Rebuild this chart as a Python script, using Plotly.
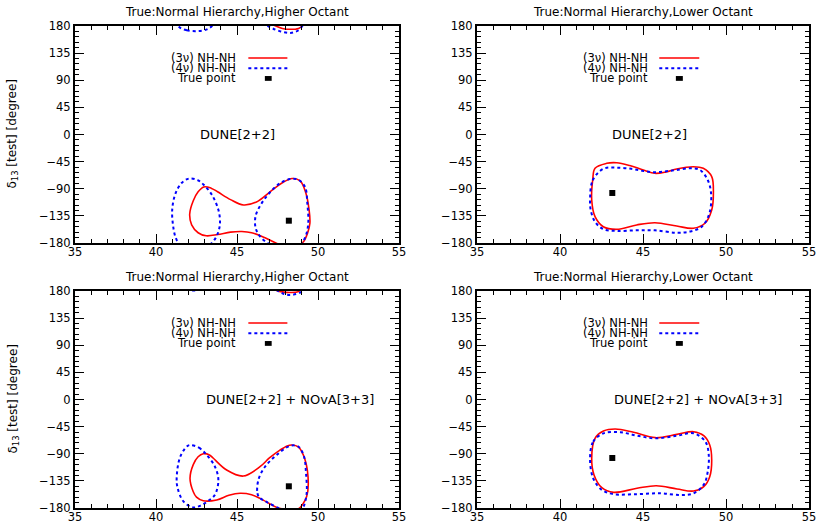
import plotly.graph_objects as go

# ---------------- data ----------------
X_RANGE = [35, 55]
Y_RANGE = [-180, 180]
X_TICKS = [35, 40, 45, 50, 55]
Y_TICKS = [-180, -135, -90, -45, 0, 45, 90, 135, 180]

panel_titles = [
    "True:Normal Hierarchy,Higher Octant",
    "True:Normal Hierarchy,Lower Octant",
    "True:Normal Hierarchy,Higher Octant",
    "True:Normal Hierarchy,Lower Octant",
]
experiment_labels = ["DUNE[2+2]", "DUNE[2+2]", "DUNE[2+2] + NOvA[3+3]", "DUNE[2+2] + NOvA[3+3]"]
experiment_label_theta = [45.0, 45.4, 48.3, 48.3]
experiment_label_delta = [0, 0, 0, 0]

legend_labels = ["(3ν) NH-NH", "(4ν) NH-NH", "True point"]

true_theta = [48.2, 43.15, 48.2, 43.15]
true_delta = [-143, -97, -144, -97]

# Panel 1 : DUNE, higher octant
tl_3v_theta = [42.08, 42.3, 42.6, 42.95, 43.4, 43.8, 44.6, 45.4, 46.2, 47.0, 47.8, 48.4, 48.9, 49.25,
               49.45, 49.5, 49.35, 49.1, 48.8, 48.3, 47.8, 47.4, 46.7, 45.9, 45.3, 44.6, 43.8, 43.1,
               42.6, 42.2, 42.08]
tl_3v_delta = [-132, -110, -95, -87, -89, -95, -108, -117, -112, -96, -80, -73, -77, -97,
               -125, -147, -164, -178, -184, -185.5, -184, -180, -171, -163, -161, -162, -166, -168,
               -163, -150, -132]
tl_4v_a_theta = [41.45, 41.9, 42.5, 43.1, 43.45, 43.8, 43.95, 43.85, 43.45, 43.0, 42.6, 42.05, 41.6,
                 41.2, 41.0, 41.05, 41.2, 41.45]
tl_4v_a_delta = [-182, -187, -188.5, -186, -180, -165, -147, -125, -100, -85, -76, -73, -80,
                 -98, -125, -150, -170, -182]
tl_4v_b_theta = [46.9, 46.45, 46.15, 46.15, 46.5, 47.0, 47.65, 48.27, 48.78, 49.2, 49.34, 49.4, 49.26,
                 49.05, 48.8, 48.3, 47.7, 47.2, 46.9]
tl_4v_b_delta = [-180, -170, -155, -135, -115, -97, -81, -74, -75, -87, -114, -147, -167,
                 -179, -187, -191.5, -189, -184, -180]

# Panel 2 : DUNE, lower octant
tr_3v_theta = [41.91, 41.97, 42.11, 42.81, 43.42, 44.2, 45.02, 45.72, 46.4, 47.03, 48.03, 48.63, 49.14,
               49.24, 49.14, 48.73, 48.03, 47.03, 45.72, 44.62, 43.42, 42.61, 42.11, 41.91]
tr_3v_delta = [-108.7, -75.5, -56, -47.8, -46.8, -51.5, -58.9, -64.4, -62, -57.2, -53.4, -56.1, -70,
               -97.6, -125.2, -147.3, -155.6, -151.8, -146.3, -150, -157.3, -153, -136.3, -108.7]
tr_4v_theta = [41.81, 41.97, 42.61, 43.42, 44.3, 45.02, 45.72, 46.4, 47.03, 47.83, 48.43, 48.9, 49.1,
               49.0, 48.54, 47.83, 47.03, 45.72, 44.62, 43.42, 42.61, 42.11, 41.85, 41.81]
tr_4v_delta = [-108.7, -76, -57, -55, -57, -60.5, -62.7, -61, -58.9, -56.1, -58.9, -75.5, -97.6,
               -131, -153, -161, -163, -159, -159, -160, -157, -145, -125, -108.7]

# Panel 3 : DUNE + NOvA, higher octant
bl_3v_theta = [42.1, 42.3, 42.6, 42.92, 43.3, 43.54, 44.36, 45.39, 46.42, 47.0, 47.65, 48.1, 48.38,
               48.8, 49.2, 49.4, 49.3, 49.05, 48.8, 48.3, 47.8, 47.45, 46.42, 45.9, 45.19, 44.5,
               43.75, 42.92, 42.5, 42.3, 42.1]
bl_3v_delta = [-131, -108, -95, -90, -92, -97.5, -117, -127, -111.5, -97, -84, -77, -75.5,
               -79, -100, -139, -161, -174, -181, -182.5, -181.5, -179, -164, -158, -155.6, -159,
               -166.7, -168, -162, -153, -131]
bl_4v_a_theta = [42.1, 42.65, 43.13, 43.64, 43.85, 43.64, 43.23, 42.75, 42.3, 41.69, 41.32, 41.28,
                 41.48, 41.9, 42.1]
bl_4v_a_delta = [-75.5, -80, -92, -111.5, -133.5, -158, -168, -176, -179, -169, -145, -128,
                 -96, -78, -75.5]
bl_4v_b_theta = [46.32, 46.26, 46.4, 46.83, 47.55, 47.9, 48.25, 48.65, 48.95, 49.1, 49.3, 49.26, 49.14,
                 48.78, 48.27, 47.45, 46.73, 46.32]
bl_4v_b_delta = [-133.5, -155.6, -163, -170, -180, -185, -186.6, -185, -182, -178, -155.6, -122.5, -95,
                 -78, -77, -92, -111.5, -133.5]

# Panel 4 : DUNE + NOvA, lower octant
br_3v_theta = [41.91, 42.11, 42.62, 43.33, 44.43, 45.74, 47.05, 48.05, 48.66, 49.02, 49.14, 49.02,
               48.66, 48.05, 47.05, 45.8, 44.64, 43.23, 42.52, 42.05, 41.91]
br_3v_delta = [-97.6, -64.4, -52.3, -49, -54.4, -63.3, -57.8, -53.4, -60, -75.5, -100.4, -128,
               -144.6, -151.8, -148.4, -143, -147.3, -154, -146.3, -125.2, -97.6]
br_4v_theta = [41.81, 42.0, 42.62, 43.63, 44.64, 45.74, 47.05, 48.05, 48.76, 48.96, 48.9, 48.66,
               48.05, 47.25, 46.04, 44.64, 43.23, 42.52, 42.0, 41.81]
br_4v_delta = [-97.6, -70, -56.1, -54.4, -60, -64.4, -60, -56.1, -70, -92, -119.7, -141.3,
               -155.6, -158.4, -155.6, -157, -157, -150, -130.8, -97.6]

curves_3v = [
    [(tl_3v_theta, tl_3v_delta)],
    [(tr_3v_theta, tr_3v_delta)],
    [(bl_3v_theta, bl_3v_delta)],
    [(br_3v_theta, br_3v_delta)],
]
curves_4v = [
    [(tl_4v_a_theta, tl_4v_a_delta), (tl_4v_b_theta, tl_4v_b_delta)],
    [(tr_4v_theta, tr_4v_delta)],
    [(bl_4v_a_theta, bl_4v_a_delta), (bl_4v_b_theta, bl_4v_b_delta)],
    [(br_4v_theta, br_4v_delta)],
]

# ---------------- layout geometry ----------------
W, H = 819, 521
FONT = "DejaVu Sans"
RED = "#ff0000"
BLUE = "#0000ff"

# pixel frames of panels: (left, right, top, bottom)
frames = [(75, 399, 26, 243), (477, 809, 26, 243), (75, 399, 291, 508), (477, 809, 291, 508)]
# legend geometry per column (data coords): text right edge, line start, line end, square centre
legend_geom = [(45.08, 45.70, 48.11, 46.93), (45.42, 45.98, 48.39, 47.19)]
legend_rows = [127, 110, 93]

fig = go.Figure()

for i in range(4):
    n = "" if i == 0 else str(i + 1)
    xa, ya = "x" + n, "y" + n
    for style, group in ((dict(color=RED, width=1.6), curves_3v[i]),
                         (dict(color=BLUE, width=2, dash="3px,3px"), curves_4v[i])):
        for th, de in group:
            for shift in (0, 360):
                fig.add_trace(go.Scatter(
                    x=th, y=[d + shift for d in de], mode="lines",
                    line=dict(shape="spline", smoothing=1.0, **style),
                    xaxis=xa, yaxis=ya, showlegend=False, hoverinfo="skip"))
    fig.add_trace(go.Scatter(
        x=[true_theta[i]], y=[true_delta[i]], mode="markers",
        marker=dict(symbol="square", size=6, color="black"),
        xaxis=xa, yaxis=ya, showlegend=False))

layout = dict(width=W, height=H, margin=dict(l=0, r=0, t=0, b=0, autoexpand=False),
              template="none",
              paper_bgcolor="white", plot_bgcolor="white",
              font=dict(family=FONT, size=12, color="black"), showlegend=False)

annotations = []
shapes = []
for i, (l, r, t, b) in enumerate(frames):
    n = "" if i == 0 else str(i + 1)
    ax = dict(range=X_RANGE, tickvals=X_TICKS, domain=[l / W, r / W], anchor="y" + n,
              automargin=False, ticklabelstandoff=-3,
              showline=True, linecolor="black", linewidth=2, mirror="allticks",
              ticks="inside", ticklen=9, tickwidth=1, tickcolor="black",
              minor=dict(dtick=1, ticks="inside", ticklen=4, tickwidth=1, tickcolor="black",
                         showgrid=False),
              showgrid=False, zeroline=False, tickfont=dict(size=11.5, family=FONT))
    ay = dict(range=Y_RANGE, tickvals=Y_TICKS, domain=[1 - b / H, 1 - t / H], anchor="x" + n,
              automargin=False,
              showline=True, linecolor="black", linewidth=2, mirror="allticks",
              ticks="inside", ticklen=9, tickwidth=1, tickcolor="black",
              minor=dict(tick0=-180, dtick=9, ticks="inside", ticklen=4, tickwidth=1,
                         tickcolor="black", showgrid=False),
              showgrid=False, zeroline=False, tickfont=dict(size=11.5, family=FONT))
    layout["xaxis" + n] = ax
    layout["yaxis" + n] = ay
    xa, ya = "x" + n, "y" + n

    # panel title
    annotations.append(dict(text=panel_titles[i], x=(l + r) / 2 / W, y=1 - (t - 14) / H,
                            xref="paper", yref="paper", xanchor="center", yanchor="middle",
                            showarrow=False, font=dict(size=12, family=FONT)))
    # experiment label
    annotations.append(dict(text=experiment_labels[i], x=experiment_label_theta[i],
                            y=experiment_label_delta[i], xref=xa, yref=ya,
                            xanchor="center", yanchor="middle", showarrow=False,
                            font=dict(size=13, family=FONT)))
    # legend
    tx, lx0, lx1, sq = legend_geom[i % 2]
    for k, lab in enumerate(legend_labels):
        annotations.append(dict(text=lab, x=tx, y=legend_rows[k], xref=xa, yref=ya,
                                xanchor="right", yanchor="middle", showarrow=False,
                                font=dict(size=11.5, family=FONT)))
    shapes.append(dict(type="line", xref=xa, yref=ya, x0=lx0, x1=lx1,
                       y0=legend_rows[0], y1=legend_rows[0], line=dict(color=RED, width=1.6)))
    shapes.append(dict(type="line", xref=xa, yref=ya, x0=lx0, x1=lx1,
                       y0=legend_rows[1], y1=legend_rows[1],
                       line=dict(color=BLUE, width=2, dash="3px,3px")))
    shapes.append(dict(type="rect", xref=xa, yref=ya, x0=sq - 0.21, x1=sq + 0.21,
                       y0=legend_rows[2] - 4, y1=legend_rows[2] + 4,
                       fillcolor="black", line=dict(width=0)))
    # y-axis title on left panels
    if i % 2 == 0:
        annotations.append(dict(text="δ<sub>13</sub> [test] [degree]", x=13 / W,
                                y=1 - (t + b) / 2 / H, xref="paper", yref="paper",
                                xanchor="center", yanchor="middle", textangle=-90,
                                showarrow=False, font=dict(size=12, family=FONT)))

layout["annotations"] = annotations
layout["shapes"] = shapes
fig.update_layout(**layout)
fig.write_html("out.html", config={"displayModeBar": False},
               post_script="document.body.style.margin='0px';")
